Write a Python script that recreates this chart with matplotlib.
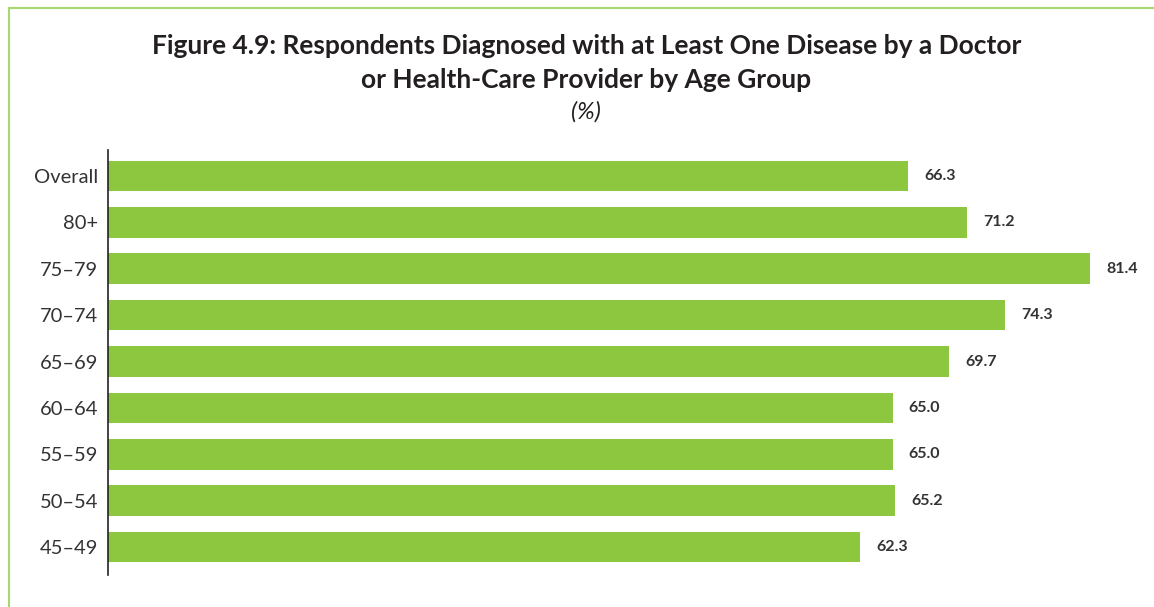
import matplotlib
matplotlib.use('Agg')
import matplotlib.pyplot as plt
from matplotlib.lines import Line2D

groups = ['Overall', '80+', '75–79', '70–74', '65–69', '60–64', '55–59', '50–54', '45–49']
values = [66.3, 71.2, 81.4, 74.3, 69.7, 65.0, 65.0, 65.2, 62.3]

bar_color = '#8dc63f'
frame_color = '#a8d870'
text_color = '#231f20'

plt.rcParams['font.family'] = ['Lato', 'DejaVu Sans']

fig = plt.figure(figsize=(11.54, 6.07), dpi=100)
ax = fig.add_axes([108 / 1154, 1 - 575 / 607, (1140 - 108) / 1154, (575 - 150) / 607])

pos = list(range(len(groups) - 1, -1, -1))
ax.barh(pos, values, height=0.66, color=bar_color, edgecolor='none')
for p, v in zip(pos, values):
    ax.text(v + 1.35, p, f'{v:.1f}', va='center', ha='left', fontsize=11.5,
            fontweight='bold', color='#333333')

ax.set_xlim(0, (1140 - 108) / 12.07)
ax.set_ylim(-0.6, 8.56)
ax.set_yticks(pos)
ax.set_yticklabels(groups, fontsize=14.5, color='#333333')
ax.tick_params(axis='y', length=0, pad=7)
ax.set_xticks([])
for side in ['top', 'right', 'bottom']:
    ax.spines[side].set_visible(False)
ax.spines['left'].set_color('#222222')
ax.spines['left'].set_linewidth(1.2)

fig.text(0.508, 1 - 46 / 607, 'Figure 4.9: Respondents Diagnosed with at Least One Disease by a Doctor',
         ha='center', va='center', fontsize=19, fontweight='bold', color=text_color)
fig.text(0.508, 1 - 80 / 607, 'or Health-Care Provider by Age Group',
         ha='center', va='center', fontsize=19, fontweight='bold', color=text_color)
fig.text(0.508, 1 - 112 / 607, '(%)', ha='center', va='center', fontsize=17,
         style='italic', color=text_color)

# thin green frame on the top and left edges
fig.add_artist(Line2D([9 / 1154, 1], [1 - 8 / 607, 1 - 8 / 607], transform=fig.transFigure,
                      color=frame_color, linewidth=1.5))
fig.add_artist(Line2D([9 / 1154, 9 / 1154], [0, 1 - 8 / 607], transform=fig.transFigure,
                      color=frame_color, linewidth=1.5))

fig.savefig('out.png', dpi=100)
